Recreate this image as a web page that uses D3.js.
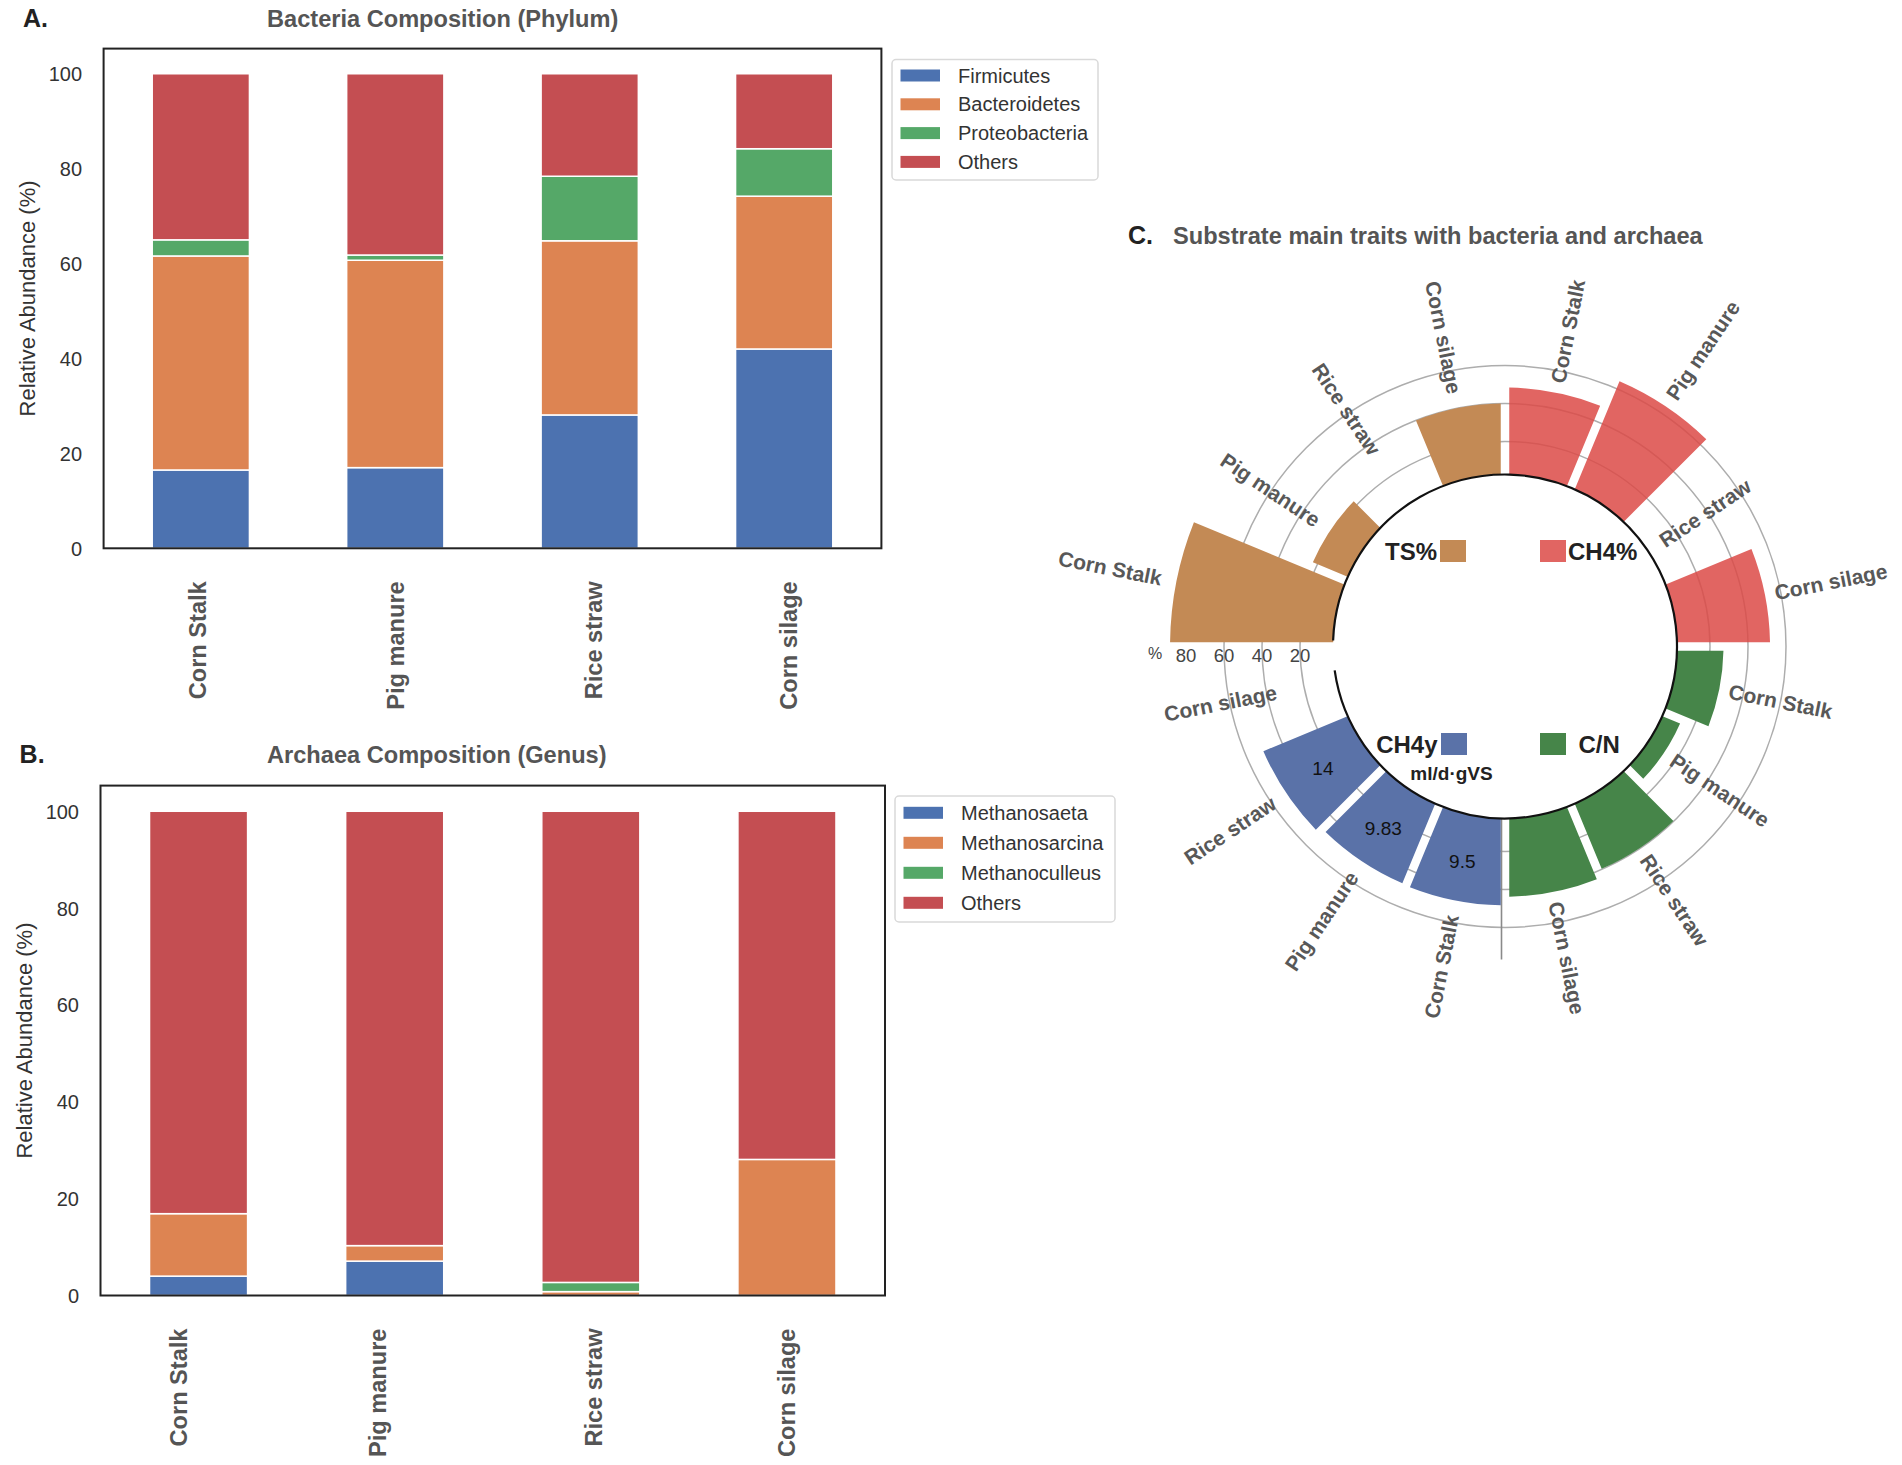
<!DOCTYPE html>
<html><head><meta charset="utf-8">
<script src="https://cdn.jsdelivr.net/npm/d3@7"></script>
<style>body{margin:0;background:#fff} svg{display:block}</style>
</head><body><svg id="c" width="1902" height="1465"></svg>
<script>
// ---------------- data ----------------
const substrates = ["Corn Stalk", "Pig manure", "Rice straw", "Corn silage"];
const yTicks = [0, 20, 40, 60, 80, 100];

// Panel A: bacteria phylum (%)
const bacteriaKeys = ["Firmicutes", "Bacteroidetes", "Proteobacteria", "Others"];
const firmicutes     = [16.5, 17.0, 28.1, 42.0];
const bacteroidetes  = [45.1, 43.7, 36.7, 32.2];
const proteobacteria = [3.4, 1.1, 13.6, 10.0];
const bacteriaOthers = [35.0, 38.2, 21.6, 15.8];

// Panel B: archaea genus (%)
const archaeaKeys = ["Methanosaeta", "Methanosarcina", "Methanoculleus", "Others"];
const methanosaeta   = [4.0, 7.1, 0.0, 0.0];
const methanosarcina = [12.9, 3.2, 0.8, 28.1];
const methanoculleus = [0.0, 0.0, 1.9, 0.0];
const archaeaOthers  = [83.1, 89.7, 97.3, 71.9];

// Panel C: substrate traits (radial units, %)
const ch4Pct      = [48.4, 64.2, null, 51.6];
const cnRatio     = [27.1, 12.8, 39.7, 43.8];
const ch4Yield    = [48.3, 47.9, 50.7, null];
const ch4YieldTxt = ["9.5", "9.83", "14", null];
const tsPct       = [88.4, 22.5, null, 40.0];
const rTicks      = [20, 40, 60, 80];

// ---------------- drawing ----------------
const FONT = '"Liberation Sans", Arial, Helvetica, sans-serif';
const svg = d3.select("#c").attr("font-family", FONT);
const seabornDeep = ["#4c72b0", "#dd8452", "#55a868", "#c44e52"];

function stackedPanel(cfg) {
  const rows = substrates.map((s, i) => {
    const o = {cat: s};
    cfg.keys.forEach((k, j) => o[k] = cfg.series[j][i]);
    return o;
  });
  const layers = d3.stack().keys(cfg.keys)(rows);
  const x = d3.scaleBand().domain(substrates).range([cfg.x0, cfg.x1]).paddingInner(0.5).paddingOuter(0.25);
  const y = d3.scaleLinear().domain([0, 105.3]).range([cfg.yBot, cfg.yTop]);
  const g = svg.append("g");

  layers.forEach((layer, j) => {
    g.selectAll(null).data(layer.filter(d => d[1] - d[0] > 0)).join("rect")
      .attr("x", d => x(d.data.cat)).attr("width", x.bandwidth())
      .attr("y", d => y(d[1])).attr("height", d => y(d[0]) - y(d[1]))
      .attr("fill", seabornDeep[j]).attr("stroke", "#fff").attr("stroke-width", 1.5);
  });

  g.append("rect").attr("x", cfg.x0).attr("y", cfg.yTop)
    .attr("width", cfg.x1 - cfg.x0).attr("height", cfg.yBot - cfg.yTop)
    .attr("fill", "none").attr("stroke", "#222").attr("stroke-width", 2);

  const ay = g.append("g").attr("transform", `translate(${cfg.x0},0)`)
    .call(d3.axisLeft(y).tickValues(yTicks).tickSize(0).tickPadding(21.5));
  ay.select(".domain").remove();
  ay.attr("font-size", 20).attr("font-family", FONT);
  ay.selectAll("text").attr("fill", "#333").attr("dy", "0.35em");

  const ax = g.append("g").attr("transform", `translate(0,${cfg.yBot})`)
    .call(d3.axisBottom(x).tickSize(0));
  ax.select(".domain").remove();
  ax.attr("font-size", 23.6).attr("font-family", FONT);
  ax.selectAll("text")
    .attr("y", 0).attr("dy", "0.36em")
    .attr("transform", (d, i) => `translate(${cfg.labelShift[i]},33) rotate(-90)`)
    .attr("text-anchor", "end").attr("font-weight", "bold").attr("fill", "#555");

  g.append("text").attr("x", cfg.x0 - 76).attr("y", (cfg.yTop + cfg.yBot) / 2)
    .attr("transform", `rotate(-90,${cfg.x0 - 76},${(cfg.yTop + cfg.yBot) / 2})`)
    .attr("text-anchor", "middle").attr("dy", "0.35em")
    .attr("font-size", 22).attr("fill", "#333").text("Relative Abundance (%)");

  g.append("text").attr("x", cfg.letterX).attr("y", cfg.titleY)
    .attr("font-size", 25).attr("font-weight", "bold").attr("fill", "#222").text(cfg.letter);
  g.append("text").attr("x", 267).attr("y", cfg.titleY)
    .attr("font-size", 23.6).attr("font-weight", "bold").attr("fill", "#555").text(cfg.title);

  const L = cfg.legend;
  const lg = g.append("g");
  lg.append("rect").attr("x", L.x).attr("y", L.y).attr("width", L.w).attr("height", L.h)
    .attr("rx", 4).attr("fill", "#fff").attr("stroke", "#d9d9d9").attr("stroke-width", 1.5);
  cfg.keys.forEach((k, j) => {
    const cy = L.row0 + j * L.step;
    lg.append("rect").attr("x", L.x + 8.5).attr("y", cy - 6).attr("width", 39.5).attr("height", 12)
      .attr("fill", seabornDeep[j]);
    lg.append("text").attr("x", L.x + 66).attr("y", cy).attr("dy", "0.35em")
      .attr("font-size", 20).attr("fill", "#333").text(k);
  });
}

stackedPanel({
  x0: 103.6, x1: 881.4, yTop: 48.6, yBot: 548.3,
  keys: bacteriaKeys, series: [firmicutes, bacteroidetes, proteobacteria, bacteriaOthers],
  title: "Bacteria Composition (Phylum)", letter: "A.", letterX: 23, titleY: 26.5,
  labelShift: [-3, 0, 4, 4],
  legend: {x: 892, y: 59.5, w: 206, h: 120.5, row0: 75.5, step: 28.8}
});

stackedPanel({
  x0: 100.5, x1: 885, yTop: 785.6, yBot: 1295.5,
  keys: archaeaKeys, series: [methanosaeta, methanosarcina, methanoculleus, archaeaOthers],
  title: "Archaea Composition (Genus)", letter: "B.", letterX: 19.6, titleY: 762.5,
  labelShift: [-20, -17, 3, 0],
  legend: {x: 895, y: 796, w: 220, h: 126, row0: 812.8, step: 30}
});

// ---------------- Panel C: polar bars ----------------
const cx = 1505, cy = 646.5, rInner = 172;
const rScale = d3.scaleLinear().domain([0, 80]).range([167, 319]);
const pc = svg.append("g");

pc.append("text").attr("x", 1128).attr("y", 244).attr("font-size", 25)
  .attr("font-weight", "bold").attr("fill", "#222").text("C.");
pc.append("text").attr("x", 1173).attr("y", 244).attr("font-size", 23.6)
  .attr("font-weight", "bold").attr("fill", "#555").text("Substrate main traits with bacteria and archaea");

// grid circles
pc.selectAll(null).data(rTicks.slice(0, 3)).join("circle")
  .attr("cx", cx).attr("cy", cy).attr("r", d => rScale(d))
  .attr("fill", "none").attr("stroke", "#adadad").attr("stroke-width", 1.5);
pc.append("line").attr("x1", cx - 3.5).attr("x2", cx - 3.5)
  .attr("y1", cy + rInner).attr("y2", cy + 313).attr("stroke", "#8a8a8a").attr("stroke-width", 1.6);

const groups = [
  {values: ch4Pct,   color: "#dc4a47", opacity: 0.85},
  {values: cnRatio,  color: "#468549", opacity: 1},
  {values: ch4Yield, color: "#5a72a8", opacity: 1},
  {values: tsPct,    color: "#c38a55", opacity: 1}
];
const slot = 2 * Math.PI / 16;
const items = [];
groups.forEach((gr, gi) => substrates.forEach((s, i) => {
  const k = gi * 4 + i;
  items.push({name: s, v: gr.values[i], gi, i, a0: k * slot, a1: (k + 1) * slot,
              mid: (k + 0.5) * slot, color: gr.color, opacity: gr.opacity});
}));

const arc = d3.arc().innerRadius(rScale(0)).outerRadius(d => rScale(d.v))
  .startAngle(d => d.a0).endAngle(d => d.a1).padAngle(0.085).padRadius(100);
pc.append("g").attr("transform", `translate(${cx},${cy})`)
  .selectAll("path").data(items.filter(d => d.v != null)).join("path")
  .attr("d", arc).attr("fill", d => d.color).attr("fill-opacity", d => d.opacity);

// inner white disc with black rim (gap near radial labels)
pc.append("circle").attr("cx", cx).attr("cy", cy).attr("r", rInner).attr("fill", "#fff");
const rim = d3.path();
const deg = Math.PI / 180;
rim.arc(cx, cy, rInner, (272 - 90) * deg, (262 + 360 - 90) * deg, false);
pc.append("path").attr("d", rim.toString()).attr("fill", "none").attr("stroke", "#111").attr("stroke-width", 2.2);

// radial tick labels
pc.selectAll(null).data(rTicks).join("text")
  .attr("x", d => cx - rScale(d)).attr("y", cy + 9).attr("dy", "0.35em")
  .attr("text-anchor", "middle").attr("font-size", 18.5).attr("fill", "#444").text(d => d);
pc.append("text").attr("x", cx - rScale(80) - 31).attr("y", cy + 7).attr("dy", "0.35em")
  .attr("text-anchor", "middle").attr("font-size", 16).attr("fill", "#444").text("%");

// category labels around the ring
pc.selectAll(null).data(items).join("text")
  .each(function(d) {
    const left = d.mid > Math.PI;
    const R = d.v == null ? rInner + (left ? 61 : 16) : rScale(d.v) + (left ? 15 : 10);
    const px = cx + R * Math.sin(d.mid), py = cy - R * Math.cos(d.mid);
    const rot = d.mid / deg - (left ? 270 : 90);
    d3.select(this).attr("x", px).attr("y", py)
      .attr("transform", `rotate(${rot},${px},${py})`)
      .attr("text-anchor", left ? "end" : "start").attr("dy", "0.36em");
  })
  .attr("font-size", 21).attr("font-weight", "bold").attr("fill", "#585858").text(d => d.name);

// value labels in CH4y bars
pc.selectAll(null).data(items.filter(d => d.gi === 2 && ch4YieldTxt[d.i] != null)).join("text")
  .attr("x", d => cx + 219 * Math.sin(d.mid)).attr("y", d => cy - 219 * Math.cos(d.mid))
  .attr("dy", "0.35em").attr("text-anchor", "middle").attr("font-size", 19).attr("fill", "#111")
  .text(d => ch4YieldTxt[d.i]);

// legend keys inside the ring
function key(sqX, sqY, color, op, label, tx, anchor) {
  pc.append("rect").attr("x", sqX).attr("y", sqY).attr("width", 26).attr("height", 22)
    .attr("fill", color).attr("fill-opacity", op);
  pc.append("text").attr("x", tx).attr("y", sqY + 11).attr("dy", "0.36em")
    .attr("text-anchor", anchor).attr("font-size", 24).attr("font-weight", "bold")
    .attr("fill", "#222").text(label);
}
key(1440, 540, groups[3].color, 1, "TS%", 1437, "end");
key(1540, 540, groups[0].color, groups[0].opacity, "CH4%", 1568, "start");
key(1441, 733, groups[2].color, 1, "CH4y", 1437.5, "end");
key(1540, 733, groups[1].color, 1, "C/N", 1578.5, "start");
pc.append("text").attr("x", 1451.5).attr("y", 773.5).attr("dy", "0.36em").attr("text-anchor", "middle")
  .attr("font-size", 19).attr("font-weight", "bold").attr("fill", "#222").text("ml/d·gVS");
</script></body></html>
